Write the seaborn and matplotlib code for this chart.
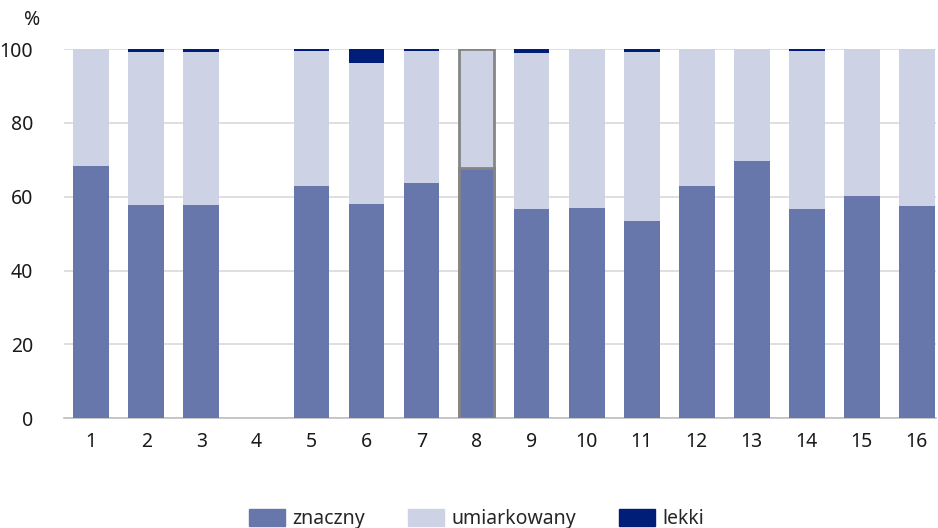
import numpy as np
import pandas as pd
import matplotlib
matplotlib.use("Agg")
import matplotlib.pyplot as plt
import seaborn as sns
from matplotlib.patches import Patch

# Data (percent)
categories = [str(i) for i in range(1, 17)]
znaczny = [68.3, 57.7, 57.7, 0, 62.9, 58.0, 63.7, 67.8, 56.6, 56.9, 53.4, 62.9, 69.6, 56.6, 60.2, 57.5]
lekki = [0, 0.9, 0.8, 0, 0.5, 3.7, 0.4, 0, 1.0, 0, 0.9, 0, 0, 0.4, 0, 0]
umiarkowany = [0 if z == 0 else round(100 - z - l, 1) for z, l in zip(znaczny, lekki)]
highlight = "8"

c_zn = "#6877AB"
c_um = "#CDD2E5"
c_le = "#001E78"

df = pd.DataFrame({"kat": categories, "znaczny": znaczny,
                   "umiarkowany": umiarkowany, "lekki": lekki})
df["do_um"] = df["znaczny"] + df["umiarkowany"]
df["razem"] = df["do_um"] + df["lekki"]

sns.set_style("white")
plt.rcParams["font.family"] = ["Noto Sans", "DejaVu Sans"]

fig = plt.figure(figsize=(9.38, 5.28), dpi=100)
ax = fig.add_axes([0.068, 0.208, 0.93, 0.699])

w = 0.65
sns.barplot(data=df, x="kat", y="razem", order=categories, color=c_le,
            width=w, saturation=1, ax=ax, linewidth=0, zorder=2)
n1 = len(ax.patches)
sns.barplot(data=df, x="kat", y="do_um", order=categories, color=c_um,
            width=w, saturation=1, ax=ax, linewidth=0, zorder=3)
n2 = len(ax.patches)
sns.barplot(data=df, x="kat", y="znaczny", order=categories, color=c_zn,
            width=w, saturation=1, ax=ax, linewidth=0, zorder=4)

# gray outline on highlighted category
hi = categories.index(highlight)
for p in (ax.patches[n1 + hi], ax.patches[n2 + hi]):
    p.set_edgecolor("#858585")
    p.set_linewidth(2)

ax.set_ylim(0, 100)
ax.set_xlim(-0.5, 15.35)
ax.set_yticks(range(0, 101, 20))
ax.yaxis.grid(True, color="#D9D9D9", linewidth=1.2, zorder=0)
ax.set_axisbelow(True)
for s in ["top", "right", "left"]:
    ax.spines[s].set_visible(False)
ax.spines["bottom"].set_color("#BFBFBF")
ax.spines["bottom"].set_linewidth(1.2)
ax.tick_params(axis="both", length=0, labelsize=14, colors="#1a1a1a", pad=10)
ax.tick_params(axis="y", pad=22)
ax.set_xlabel("")
ax.set_ylabel("")
fig.text(0.034, 0.962, "%", fontsize=14, ha="center", va="center", color="#1a1a1a")

handles = [Patch(color=c_zn, label="znaczny"),
           Patch(color=c_um, label="umiarkowany"),
           Patch(color=c_le, label="lekki")]
fig.legend(handles=handles, loc="lower center", bbox_to_anchor=(0.508, -0.035),
           ncol=3, frameon=False, fontsize=14, handlelength=1.85, handleheight=0.95,
           columnspacing=2.2, handletextpad=0.4)

fig.savefig("out.png", dpi=100)
